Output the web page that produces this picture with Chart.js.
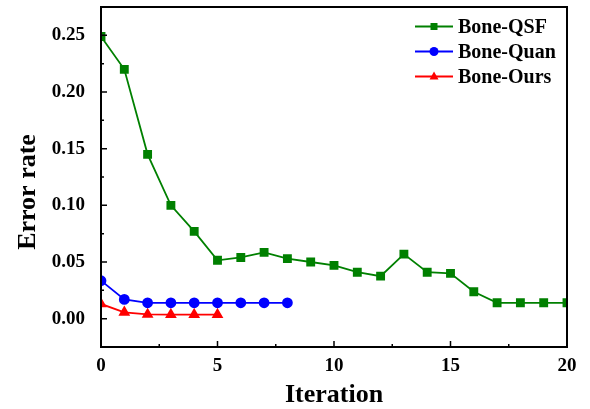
<!DOCTYPE html>
<html>
<head>
<meta charset="utf-8">
<script src="https://cdn.jsdelivr.net/npm/chart.js@4/dist/chart.umd.min.js"></script>
<style>
	html, body { margin: 0; padding: 0; background: #fff; }
	#wrap { width: 590px; height: 409px; }
</style>
</head>
<body>
<div id="wrap"><canvas id="myChart" width="590" height="409"></canvas></div>
<script>
// values
const iterQSF = [0, 1, 2, 3, 4, 5, 6, 7, 8, 9, 10, 11, 12, 13, 14, 15, 16, 17, 18, 19, 20];
const errQSF = [0.249, 0.22, 0.145, 0.1, 0.077, 0.0515, 0.054, 0.0585, 0.053, 0.05, 0.047, 0.041, 0.0375, 0.057, 0.041, 0.04, 0.0237, 0.014, 0.014, 0.014, 0.014];
const iterQuan = [0, 1, 2, 3, 4, 5, 6, 7, 8];
const errQuan = [0.0335, 0.017, 0.014, 0.014, 0.014, 0.014, 0.014, 0.014, 0.014];
const iterOurs = [0, 1, 2, 3, 4, 5];
const errOurs = [0.013, 0.0056, 0.0037, 0.0036, 0.0036, 0.0036];

const xTickVals = [0, 5, 10, 15, 20];
const yTickVals = [0, 0.05, 0.1, 0.15, 0.2, 0.25];

const FONT = "'Liberation Serif', 'Times New Roman', serif";

function pts(xs, ys) {
	return xs.map((x, i) => ({ x: x, y: ys[i] }));
}

// legend drawn as line + marker, like the original
const legendPlugin = {
	id: "lineLegend",
	afterDraw(chart) {
		const ctx = chart.ctx;
		const x0 = 415, x1 = 453, tx = 458;
		chart.data.datasets.forEach((ds, i) => {
			const y = 26.5 + i * 25;
			ctx.save();
			ctx.strokeStyle = ds.borderColor;
			ctx.lineWidth = 2;
			ctx.beginPath();
			ctx.moveTo(x0, y);
			ctx.lineTo(x1, y);
			ctx.stroke();
			ctx.fillStyle = ds.borderColor;
			const cx = (x0 + x1) / 2;
			ctx.beginPath();
			if (ds.pointStyle === "rect") {
				ctx.rect(cx - 3.5, y - 3.5, 7, 7);
			} else if (ds.pointStyle === "circle") {
				ctx.arc(cx, y, 4.5, 0, Math.PI * 2);
			} else {
				ctx.moveTo(cx, y - 5);
				ctx.lineTo(cx + 4.5, y + 3);
				ctx.lineTo(cx - 4.5, y + 3);
				ctx.closePath();
			}
			ctx.fill();
			ctx.fillStyle = "#000";
			ctx.font = "bold 20px " + FONT;
			ctx.textBaseline = "middle";
			ctx.textAlign = "left";
			ctx.fillText(ds.label, tx, y + 1);
			ctx.restore();
		});
		// y axis title, sits a bit below the plot centre in the original
		ctx.save();
		ctx.translate(28, 192);
		ctx.rotate(-Math.PI / 2);
		ctx.fillStyle = "#000";
		ctx.font = "bold 26px " + FONT;
		ctx.textAlign = "center";
		ctx.textBaseline = "middle";
		ctx.fillText("Error rate", 0, 0);
		ctx.restore();
	},
};

// frame and inward ticks (major + minor)
const framePlugin = {
	id: "frame",
	afterDatasetsDraw(chart) {
		const ctx = chart.ctx;
		const a = chart.chartArea;
		const xs = chart.scales.x, ys = chart.scales.y;
		ctx.save();
		ctx.strokeStyle = "#000";
		ctx.lineWidth = 2;
		ctx.strokeRect(a.left, a.top, a.right - a.left, a.bottom - a.top);
		ctx.lineWidth = 1.5;
		ctx.beginPath();
		for (let v = 0; v <= 20; v += 2.5) {
			const px = xs.getPixelForValue(v);
			const len = v % 5 === 0 ? 6 : 3;
			ctx.moveTo(px, a.bottom);
			ctx.lineTo(px, a.bottom - len);
		}
		for (let k = 0; k <= 11; k++) {
			const v = k * 0.025;
			const py = ys.getPixelForValue(v);
			const len = k % 2 === 0 ? 6 : 3;
			ctx.moveTo(a.left, py);
			ctx.lineTo(a.left + len, py);
		}
		ctx.stroke();
		ctx.restore();
	},
};

const ctx = document.getElementById("myChart").getContext("2d");
const myChart = new Chart(ctx, {
	type: "line",
	data: {
		datasets: [
			{
				label: "Bone-QSF",
				data: pts(iterQSF, errQSF),
				borderColor: "#008000",
				backgroundColor: "#008000",
				pointStyle: "rect",
				pointRadius: 5,
				borderWidth: 1.8,
			},
			{
				label: "Bone-Quan",
				data: pts(iterQuan, errQuan),
				borderColor: "#0000ff",
				backgroundColor: "#0000ff",
				pointStyle: "circle",
				pointRadius: 4.5,
				borderWidth: 1.8,
			},
			{
				label: "Bone-Ours",
				data: pts(iterOurs, errOurs),
				borderColor: "#ff0000",
				backgroundColor: "#ff0000",
				pointStyle: "triangle",
				pointRadius: 5,
				borderWidth: 1.8,
			},
		],
	},
	options: {
		responsive: false,
		animation: false,
		elements: { line: { tension: 0 } },
		layout: { padding: { left: 0, right: 23, top: 7, bottom: 0 } },
		plugins: {
			legend: { display: false },
			tooltip: { enabled: false },
		},
		scales: {
			x: {
				type: "linear",
				min: 0,
				max: 20,
				afterFit: (s) => {
					s.height = 62;
					s.paddingLeft = 0;
					s.paddingRight = 0;
				},
				afterBuildTicks: (s) => { s.ticks = xTickVals.map((v) => ({ value: v })); },
				grid: { display: false },
				border: { display: false },
				ticks: {
					padding: 0,
					color: "#000",
					font: { family: FONT, size: 19, weight: "bold" },
					callback: (v) => String(v),
				},
				title: {
					display: true,
					text: "Iteration",
					color: "#000",
					font: { family: FONT, size: 26, weight: "bold" },
					padding: { top: 0, bottom: -2 },
				},
			},
			y: {
				type: "linear",
				min: -0.025,
				max: 0.275,
				afterFit: (s) => {
					s.width = 101;
					s.paddingTop = 0;
					s.paddingBottom = 0;
				},
				afterBuildTicks: (s) => { s.ticks = yTickVals.map((v) => ({ value: v })); },
				grid: { display: false },
				border: { display: false },
				ticks: {
					padding: 8,
					color: "#000",
					font: { family: FONT, size: 19, weight: "bold" },
					callback: (v) => Number(v).toFixed(2),
				},
			},
		},
	},
	plugins: [framePlugin, legendPlugin],
});
</script>
</body>
</html>
